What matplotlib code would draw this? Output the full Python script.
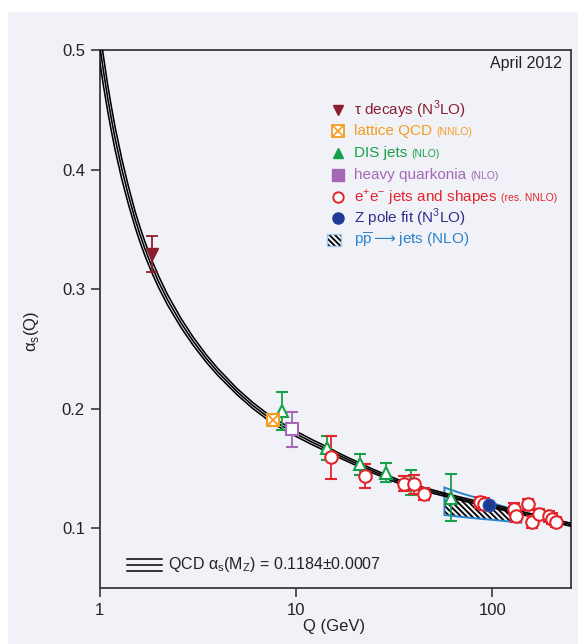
import matplotlib
matplotlib.use("Agg")
import numpy as np
import matplotlib.pyplot as plt
from matplotlib.patches import Rectangle, Polygon
from matplotlib.offsetbox import TextArea, HPacker, AnnotationBbox

FONT = ["Liberation Sans Narrow", "Liberation Sans", "DejaVu Sans"]
plt.rcParams["font.family"] = FONT
plt.rcParams["hatch.linewidth"] = 1.3

# ---- running coupling band ----
curve_q = [1.0, 1.05, 1.1, 1.15, 1.2, 1.3, 1.4, 1.52, 1.6, 1.7, 1.85, 2.0, 2.22,
           2.6, 3.0, 3.5, 4.0, 5.0, 6.0, 7.6, 10, 12, 14.4, 17, 21, 25, 30, 34.4,
           40, 50, 60, 70, 80, 95.6, 120, 160, 200, 250]
curve_mid = [0.505, 0.481, 0.460, 0.442, 0.426, 0.400, 0.379, 0.358, 0.3465, 0.334,
             0.3186, 0.306, 0.291, 0.2716, 0.2563, 0.2418, 0.2307, 0.2144, 0.2029,
             0.190, 0.179, 0.1722, 0.166, 0.160, 0.153, 0.1473, 0.142, 0.138, 0.1349,
             0.1305, 0.1271, 0.1244, 0.1221, 0.1192, 0.1155, 0.1105, 0.1065, 0.103]
curve_half = [0.0135, 0.0122, 0.011, 0.0102, 0.0095, 0.0085, 0.0075, 0.0066, 0.0062,
              0.0058, 0.0052, 0.0048, 0.0043, 0.0038, 0.0034, 0.0031, 0.0029, 0.0026,
              0.0025, 0.0024, 0.0022, 0.0021, 0.0020, 0.0018, 0.0017, 0.0016, 0.0015,
              0.0015, 0.0014, 0.0014, 0.0013, 0.0013, 0.0013, 0.0013, 0.0013, 0.0013,
              0.0013, 0.0013]

# ---- measurements ----
tau_q, tau_a, tau_err = [1.85], [0.329], [0.015]
lat_q, lat_a = [7.6], [0.1904]
dis_q = [8.5, 14.4, 21.1, 28.9, 38.7, 61.5]
dis_a = [0.198, 0.1674, 0.1534, 0.1465, 0.138, 0.1256]
dis_err = [0.016, 0.010, 0.009, 0.008, 0.0105, 0.020]
hq_q, hq_a, hq_err = [9.6], [0.1826], [0.015]
ee_q = [15.0, 22.4, 35.6, 39.8, 45.0, 86.5, 90.5, 128.4, 131.4, 152, 159, 173.5, 194, 200, 209.6]
ee_a = [0.1595, 0.1437, 0.1373, 0.1367, 0.1284, 0.1215, 0.1200, 0.1164, 0.1098, 0.1200,
        0.1053, 0.1117, 0.1098, 0.1081, 0.1053]
ee_err = [0.018, 0.0097, 0.006, 0.008, 0.005, 0.005, 0.005, 0.0045, 0.0045, 0.0045,
          0.0050, 0.0045, 0.0045, 0.0045, 0.0040]
z_q, z_a = [95.6], [0.1192]
pp_q = [57, 70, 85, 100, 120, 140]
pp_top = [0.134, 0.129, 0.125, 0.121, 0.117, 0.114]
pp_bot = [0.111, 0.1094, 0.108, 0.107, 0.1057, 0.1046]
pp_hatch_top = [0.128, 0.1244, 0.121, 0.1186, 0.1155, 0.1125]

BG = "#f1f2f8"
C_TAU = "#8b1e2e"
C_LAT = "#f39c1f"
C_DIS = "#17a04b"
C_HQ = "#a667b5"
C_EE = "#e3242b"
C_Z = "#1f3c94"
C_ZT = "#2e2e8c"
C_PP = "#2d82cc"
C_AX = "#3a3a3a"
HATCH = "\\\\\\\\\\\\"

fig = plt.figure(figsize=(5.78, 6.44), dpi=100)
fig.patches.append(Rectangle((8 / 578, 0), 1, 1 - 12 / 644, transform=fig.transFigure,
                             facecolor=BG, edgecolor="none", zorder=-10))
ax = fig.add_axes([0.1722, 0.0870, 0.8149, 0.8354])
ax.set_facecolor(BG)

# ==== QCD curves ====
mid = np.array(curve_mid)
half = np.array(curve_half)
for a in (mid + half, mid, mid - half):
    ax.plot(curve_q, a, color="black", lw=1.15, zorder=3)

# ==== p pbar -> jets ====
hatch_pts = list(zip(pp_q, pp_bot)) + list(zip(pp_q[::-1], pp_hatch_top[::-1]))
ax.add_patch(Polygon(hatch_pts, closed=True, facecolor="none", edgecolor="black",
                     lw=0, hatch=HATCH, zorder=2))
out_pts = list(zip(pp_q, pp_bot)) + list(zip(pp_q[::-1], pp_top[::-1]))
ax.add_patch(Polygon(out_pts, closed=True, facecolor="none", edgecolor=C_PP,
                     lw=1.4, zorder=2.5))

# ==== data points ====
eb = dict(ls="none", capsize=4, elinewidth=1.3, capthick=1.3, zorder=5)
ax.errorbar(tau_q, tau_a, yerr=tau_err, marker="v", ms=8, color=C_TAU, **eb)
ax.errorbar(dis_q, dis_a, yerr=dis_err, marker="^", ms=9, mfc="white", mec=C_DIS,
            mew=1.5, color=C_DIS, **eb)
ax.errorbar(hq_q, hq_a, yerr=hq_err, marker="s", ms=8.5, mfc="white", mec=C_HQ,
            mew=1.5, color=C_HQ, **eb)
ax.errorbar(ee_q, ee_a, yerr=ee_err, marker="o", ms=9, mfc="white", mec=C_EE,
            mew=1.5, color=C_EE, **eb)
ax.plot(lat_q, lat_a, marker="s", ms=9, mfc="white", mec=C_LAT, mew=1.5, ls="none", zorder=6)
ax.plot(lat_q, lat_a, marker="x", ms=9, mec=C_LAT, mew=1.3, ls="none", zorder=6)
ax.plot(z_q, z_a, marker="o", ms=9, color=C_Z, mec="#2a55b0", ls="none", zorder=7)

# ==== axes ====
ax.set_xscale("log")
ax.set_xlim(1, 250)
ax.set_ylim(0.05, 0.5)
ax.set_xticks([1, 10, 100])
ax.set_xticklabels(["1", "10", "100"])
ax.xaxis.set_minor_locator(matplotlib.ticker.NullLocator())
ax.set_yticks([0.1, 0.2, 0.3, 0.4, 0.5])
ax.set_yticklabels(["0.1", "0.2", "0.3", "0.4", "0.5"])
for s in ax.spines.values():
    s.set_color(C_AX)
    s.set_linewidth(1.3)
ax.tick_params(direction="out", length=6.5, width=1.2, color=C_AX, labelsize=12,
               labelcolor="#222222", pad=4)

fig.text(31.7 / 578, 1 - 331 / 644, r"α$_{\mathregular{s}}$(Q)", rotation=90,
         ha="center", va="center", fontsize=12, color="#222222")
fig.text(333.6 / 578, 1 - 626 / 644, "Q (GeV)", ha="center", va="center",
         fontsize=12, color="#222222")

ax.text(0.982, 0.974, "April 2012", transform=ax.transAxes, ha="right", va="center",
        fontsize=11.5, color="#222222")

# ==== legend (top right) ====
mx, tx = 0.5057, 0.5403
rows = [0.8885, 0.8494, 0.8086, 0.7677, 0.7268, 0.6877, 0.6468]
BIG, SMALL = 11, 7.5


def legend_text(y, parts, color):
    boxes = [TextArea(t, textprops=dict(color=color, fontsize=fs, family=FONT))
             for t, fs in parts]
    pack = HPacker(children=boxes, align="baseline", pad=0, sep=3)
    ab = AnnotationBbox(pack, (tx, y), xycoords=ax.transAxes, box_alignment=(0, 0.5),
                        frameon=False, pad=0)
    ax.add_artist(ab)


mk = dict(transform=ax.transAxes, clip_on=False, ls="none", zorder=8)
ax.plot([mx], [rows[0]], marker="v", ms=7, color=C_TAU, **mk)
ax.plot([mx], [rows[1]], marker="s", ms=8, mfc="white", mec=C_LAT, mew=1.3, **mk)
ax.plot([mx], [rows[1]], marker="x", ms=8, mec=C_LAT, mew=1.2, **mk)
ax.plot([mx], [rows[2]], marker="^", ms=6.5, color=C_DIS, **mk)
ax.plot([mx], [rows[3]], marker="s", ms=8, color=C_HQ, **mk)
ax.plot([mx], [rows[4]], marker="o", ms=7.5, mfc="white", mec=C_EE, mew=1.4, **mk)
ax.plot([mx], [rows[5]], marker="o", ms=8, color=C_Z, **mk)
icon = (0.483, rows[6] - 0.0112)
ax.add_patch(Rectangle(icon, 0.0297, 0.0223, transform=ax.transAxes, facecolor="none",
                       edgecolor="black", lw=0, hatch=HATCH, clip_on=False, zorder=8))
ax.add_patch(Rectangle(icon, 0.0297, 0.0223, transform=ax.transAxes, facecolor="none",
                       edgecolor="#9fc7ea", lw=1.0, clip_on=False, zorder=8))

legend_text(rows[0], [(r"τ decays (N$^{\mathregular{3}}$LO)", BIG)], C_TAU)
legend_text(rows[1], [("lattice QCD", BIG), ("(NNLO)", SMALL)], C_LAT)
legend_text(rows[2], [("DIS jets", BIG), ("(NLO)", SMALL)], C_DIS)
legend_text(rows[3], [("heavy quarkonia", BIG), ("(NLO)", SMALL)], C_HQ)
legend_text(rows[4], [(r"e$^{\mathregular{+}}$e$^{\mathregular{-}}$ jets and shapes", BIG),
                      ("(res. NNLO)", SMALL)], C_EE)
legend_text(rows[5], [(r"Z pole fit (N$^{\mathregular{3}}$LO)", BIG)], C_ZT)
legend_text(rows[6], [(r"p$\overline{\mathregular{p}}\longrightarrow$jets (NLO)", BIG)], C_PP)

# ==== legend (bottom left) ====
for yy in (0.0539, 0.0428, 0.0316):
    ax.plot([0.0584, 0.1327], [yy, yy], color="black", lw=1.1, transform=ax.transAxes,
            clip_on=False)
ax.text(0.1454, 0.0428, r"QCD α$_{\mathregular{s}}$(M$_{\mathregular{Z}}$) = 0.1184±0.0007",
        transform=ax.transAxes, ha="left", va="center", fontsize=11.5, color="#222222")

fig.savefig("out.png", dpi=100, facecolor="white")
